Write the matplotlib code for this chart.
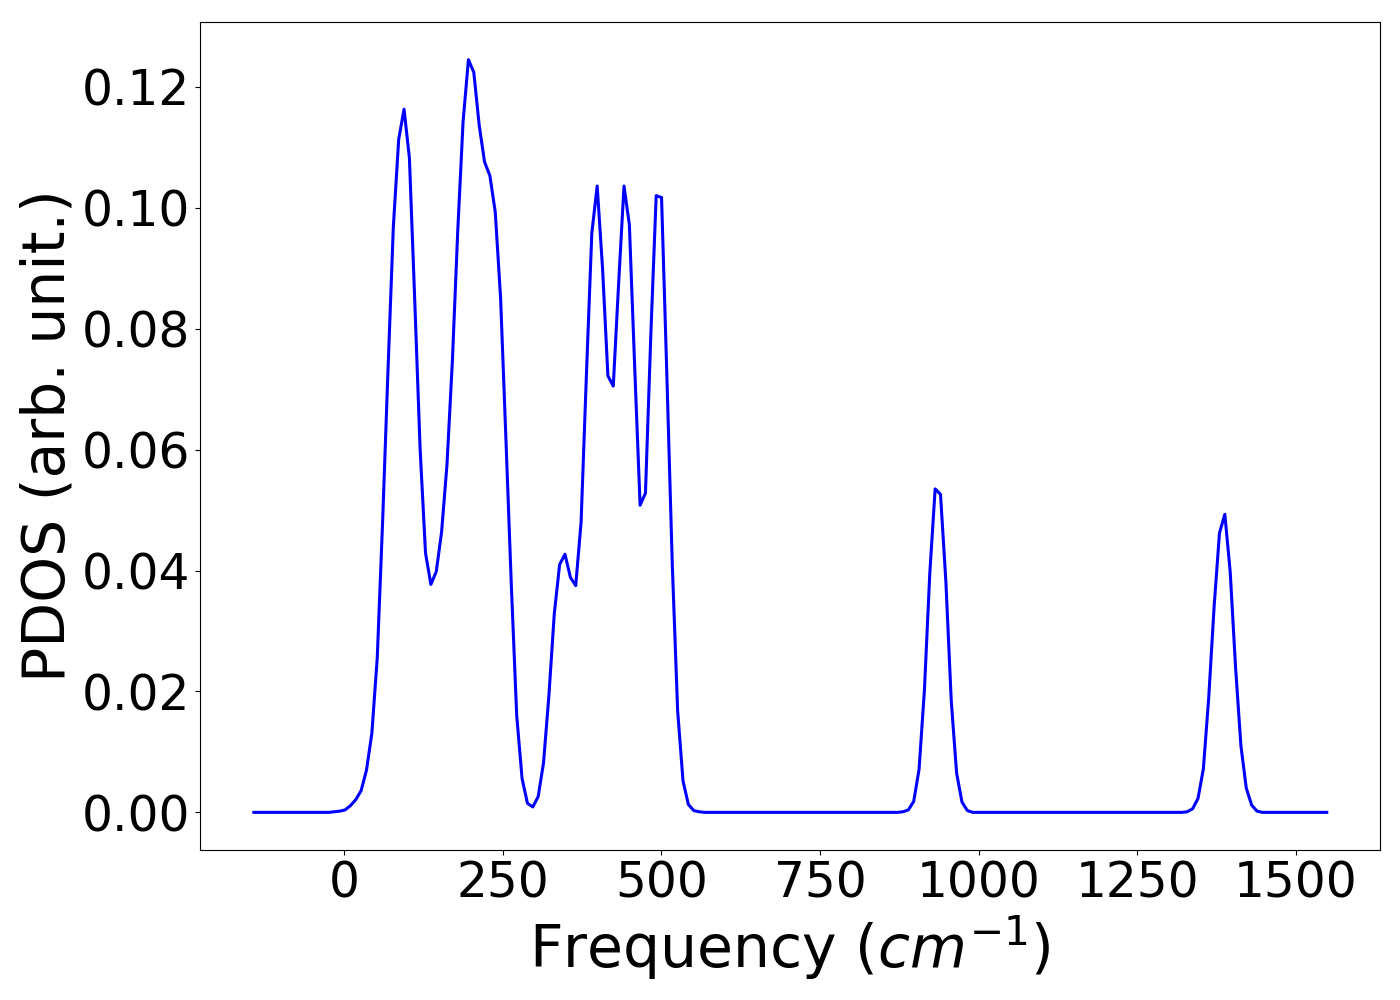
import numpy as np
import matplotlib.pyplot as plt

# frequency grid (cm^-1), 201 evenly spaced samples
freq = np.linspace(-142.5, 1548.9, 201)

# PDOS values, one per grid point
pdos_low = [0.0] * 15 + [
    0.0001, 0.0002, 0.0004, 0.0011, 0.0021, 0.0036, 0.0070, 0.0131, 0.0255, 0.0480,
    0.0730, 0.0968, 0.1113, 0.1163, 0.1082, 0.0845, 0.0600, 0.0429, 0.0377, 0.0398,
    0.0464, 0.0575, 0.0745, 0.0960, 0.1142, 0.1245, 0.1224, 0.1137, 0.1076, 0.1053,
    0.0993, 0.0850, 0.0615, 0.0375, 0.0160, 0.0056, 0.0015, 0.0009, 0.0026, 0.0082,
    0.0193, 0.0328, 0.0410, 0.0427, 0.0389, 0.0375, 0.0480, 0.0725, 0.0958, 0.1036,
    0.0900, 0.0722, 0.0705, 0.0875, 0.1036, 0.0972, 0.0735, 0.0508, 0.0528, 0.0790,
    0.1020, 0.1017, 0.0720, 0.0410, 0.0168, 0.0052, 0.0013, 0.0003, 0.0001,
]
pdos_mid = [0.0] * 37 + [
    0.0001, 0.0004, 0.0018, 0.0071, 0.0202, 0.0395, 0.0535, 0.0526, 0.0382, 0.0185,
    0.0065, 0.0017, 0.0003,
]
pdos_high = [0.0] * 40 + [
    0.0001, 0.0006, 0.0023, 0.0072, 0.0190, 0.0340, 0.0462, 0.0493, 0.0398, 0.0240,
    0.0110, 0.0040, 0.0012, 0.0002,
] + [0.0] * 13

pdos = np.array(pdos_low + pdos_mid + pdos_high)

fig, ax = plt.subplots(figsize=(14, 10), dpi=100)
fig.subplots_adjust(left=0.143, right=0.986, bottom=0.15, top=0.978)

ax.plot(freq, pdos, color='blue', linewidth=2.2)
ax.set_xlabel('Frequency ($cm^{-1}$)', fontsize=42)
ax.set_ylabel('PDOS (arb. unit.)', fontsize=42)
ax.tick_params(labelsize=35)
ax.set_xticks([0, 250, 500, 750, 1000, 1250, 1500])

fig.savefig('out.png')
